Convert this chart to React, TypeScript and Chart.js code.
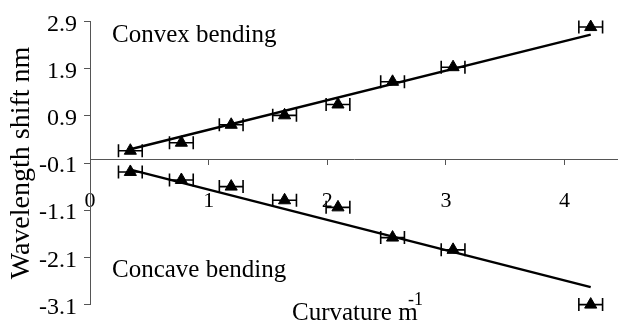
import React, { useEffect, useRef } from 'react';
import { Chart, registerables } from 'chart.js';

Chart.register(...registerables);

// ---- data ----
const curvature = [0.34, 0.77, 1.19, 1.64, 2.09, 2.55, 3.06, 4.22];
const convexShift = [0.16, 0.33, 0.71, 0.91, 1.14, 1.62, 1.93, 2.78];
const concaveShift = [-0.29, -0.46, -0.6, -0.89, -1.04, -1.68, -1.94, -3.1];
const curvatureError = [0.1, 0.1, 0.1, 0.1, 0.1, 0.1, 0.1, 0.1];
const fitX = [0.34, 4.22];
const convexFitY = [0.19, 2.62];
const concaveFitY = [-0.24, -2.73];
const xTicks = [0, 1, 2, 3, 4];
const yTicks = [-3.1, -2.1, -1.1, -0.1, 0.9, 1.9, 2.9];

const FONT = '"Liberation Serif", "Times New Roman", serif';

const errorBarPlugin = {
  id: 'xErrorBars',
  beforeDatasetsDraw(chart: any) {
    const { ctx } = chart;
    const xs = chart.scales.x;
    const ys = chart.scales.y;
    ctx.save();
    ctx.strokeStyle = '#000';
    ctx.lineWidth = 1.6;
    chart.data.datasets.forEach((ds: any) => {
      const errs = ds.xErr;
      if (!errs) return;
      ds.data.forEach((p: any, j: number) => {
        const x1 = xs.getPixelForValue(p.x - errs[j]);
        const x2 = xs.getPixelForValue(p.x + errs[j]);
        const py = ys.getPixelForValue(p.y);
        ctx.beginPath();
        ctx.moveTo(x1, py);
        ctx.lineTo(x2, py);
        ctx.moveTo(x1, py - 6.5);
        ctx.lineTo(x1, py + 6.5);
        ctx.moveTo(x2, py - 6.5);
        ctx.lineTo(x2, py + 6.5);
        ctx.stroke();
      });
    });
    ctx.restore();
  },
};

const textPlugin = {
  id: 'texts',
  afterDraw(chart: any) {
    const { ctx } = chart;
    ctx.save();
    ctx.fillStyle = '#000';
    ctx.textAlign = 'left';
    ctx.textBaseline = 'alphabetic';
    ctx.font = `25px ${FONT}`;
    ctx.fillText('Convex bending', 112, 42);
    ctx.fillText('Concave bending', 112, 277);
    ctx.fillText('Curvature m', 292, 320);
    ctx.font = `18px ${FONT}`;
    ctx.fillText('-1', 408, 305);
    ctx.restore();
  },
};

export default function App() {
  const ref = useRef<HTMLCanvasElement | null>(null);

  useEffect(() => {
    if (!ref.current) return;
    const pts = (ys: number[]) => curvature.map((x, i) => ({ x, y: ys[i] }));
    const fit = (ys: number[]) => fitX.map((x, i) => ({ x, y: ys[i] }));
    const markerDs = (ys: number[]) => ({
      data: pts(ys),
      xErr: curvatureError,
      showLine: false,
      pointStyle: 'triangle',
      pointRadius: 7,
      pointBackgroundColor: '#000',
      pointBorderColor: '#000',
      pointBorderWidth: 1,
      clip: false,
      order: 0,
    });
    const fitDs = (ys: number[]) => ({
      data: fit(ys),
      showLine: true,
      pointRadius: 0,
      borderColor: '#000',
      borderWidth: 2.5,
      clip: false,
      order: 1,
    });
    const chart = new Chart(ref.current, {
      type: 'scatter',
      data: {
        datasets: [markerDs(convexShift), markerDs(concaveShift), fitDs(convexFitY), fitDs(concaveFitY)] as any,
      },
      options: {
        responsive: false,
        animation: false,
        devicePixelRatio: 1,
        layout: { autoPadding: false, padding: { top: 19, bottom: 11, left: 0, right: 0 } },
        plugins: {
          legend: { display: false },
          tooltip: { enabled: false },
          title: { display: false },
        },
        scales: {
          x: {
            type: 'linear',
            min: 0,
            max: 4.45,
            position: { y: -0.03 } as any,
            afterFit: (s: any) => {
              s.height = 0;
              s.paddingRight = 0;
            },
            afterBuildTicks: (s: any) => {
              s.ticks = xTicks.map((v) => ({ value: v }));
            },
            grid: { drawOnChartArea: false, drawTicks: true, tickLength: 5, color: '#555', lineWidth: 1 },
            border: { display: true, color: '#555', width: 1 },
            ticks: {
              padding: 23,
              color: '#000',
              maxRotation: 0,
              autoSkip: false,
              font: { family: FONT, size: 22 },
              callback: (v: any) => String(v),
            },
          },
          y: {
            type: 'linear',
            min: -3.1,
            max: 2.9,
            afterFit: (s: any) => {
              s.width = 90;
            },
            afterBuildTicks: (s: any) => {
              s.ticks = yTicks.map((v) => ({ value: v }));
            },
            grid: { drawOnChartArea: false, drawTicks: true, tickLength: 6, color: '#555', lineWidth: 1 },
            border: { display: true, color: '#555', width: 1 },
            ticks: {
              padding: 7,
              labelOffset: 3,
              color: '#000',
              autoSkip: false,
              font: { family: FONT, size: 24 },
              callback: (v: any) => Number(v).toFixed(1),
            },
            title: {
              display: true,
              text: 'Wavelength shift nm',
              color: '#000',
              font: { family: FONT, size: 28 },
              padding: { top: 5, bottom: 0 },
            },
          },
        },
      } as any,
      plugins: [errorBarPlugin, textPlugin],
    });
    return () => chart.destroy();
  }, []);

  return (
    <div style={{ position: 'fixed', left: 0, top: 0, width: 618, height: 326, background: '#fff' }}>
      <canvas ref={ref} width={618} height={326} />
    </div>
  );
}
